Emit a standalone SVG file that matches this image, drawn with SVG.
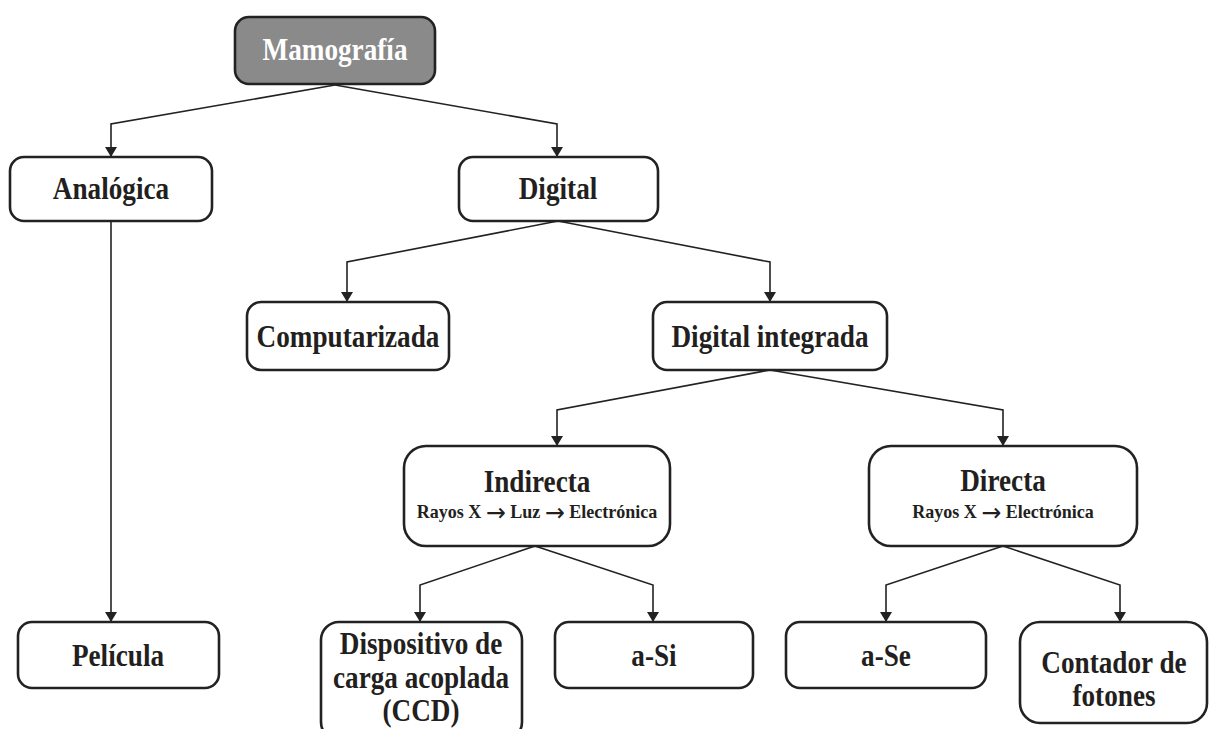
<svg xmlns="http://www.w3.org/2000/svg" width="1209" height="729" viewBox="0 0 1209 729">
<defs>
<marker id="ah" viewBox="0 0 10 12" refX="10" refY="6" markerWidth="10" markerHeight="12" markerUnits="userSpaceOnUse" orient="auto">
<path d="M0,0 L10,6 L0,12 Z" fill="#222"/>
</marker>
<style>
.box{fill:#fff;stroke:#222;stroke-width:2.6}
.root{fill:#8a8a8a;stroke:#222;stroke-width:2.6}
.t{font-family:"Liberation Serif","Times New Roman",serif;font-weight:bold;font-size:32px;fill:#231f20;text-anchor:middle}
.tw{fill:#fff}
.s{font-size:19px}
.ar{font-family:"DejaVu Sans",sans-serif;font-weight:normal;font-size:25px}
.c{fill:none;stroke:#222;stroke-width:1.6;marker-end:url(#ah)}
</style>
</defs>
<rect width="1209" height="729" fill="#fff"/>
<g id="connectors">
<path class="c" d="M335,85 L111,124 L111,157"/>
<path class="c" d="M335,85 L557,124 L557,157"/>
<path class="c" d="M111,221 L111,622"/>
<path class="c" d="M558,221 L347,262 L347,302"/>
<path class="c" d="M558,221 L770,262 L770,302"/>
<path class="c" d="M770,370 L557,410 L557,446"/>
<path class="c" d="M770,370 L1003,410 L1003,446"/>
<path class="c" d="M535,546 L420,585 L420,622"/>
<path class="c" d="M535,546 L653,585 L653,622"/>
<path class="c" d="M1003,546 L886,585 L886,622"/>
<path class="c" d="M1003,546 L1120,585 L1120,622"/>
</g>
<g id="mamografia"><rect class="root" x="235" y="17" width="200" height="67" rx="14"/><text class="t tw" transform="translate(335,60) scale(0.85,1)">Mamografía</text></g>
<g id="analogica"><rect class="box" x="10" y="157" width="202" height="64" rx="14"/><text class="t" transform="translate(111,199) scale(0.85,1)">Analógica</text></g>
<g id="digital"><rect class="box" x="459" y="157" width="199" height="64" rx="14"/><text class="t" transform="translate(558,199) scale(0.85,1)">Digital</text></g>
<g id="computarizada"><rect class="box" x="247" y="302" width="202" height="68" rx="14"/><text class="t" transform="translate(348,347) scale(0.85,1)">Computarizada</text></g>
<g id="digital-integrada"><rect class="box" x="653" y="302" width="234" height="68" rx="14"/><text class="t" transform="translate(770,347) scale(0.85,1)">Digital integrada</text></g>
<g id="indirecta"><rect class="box" x="404" y="446" width="266" height="100" rx="22"/><text class="t" transform="translate(537,492) scale(0.85,1)">Indirecta</text><text class="t s" transform="translate(537,518) scale(0.95,1)">Rayos X <tspan class="ar" dy="3">→</tspan><tspan dy="-3"> Luz </tspan><tspan class="ar" dy="3">→</tspan><tspan dy="-3"> Electrónica</tspan></text></g>
<g id="directa"><rect class="box" x="869" y="446" width="268" height="100" rx="22"/><text class="t" transform="translate(1003,491) scale(0.85,1)">Directa</text><text class="t s" transform="translate(1003,518) scale(0.95,1)">Rayos X <tspan class="ar" dy="3">→</tspan><tspan dy="-3"> Electrónica</tspan></text></g>
<g id="pelicula"><rect class="box" x="18" y="622" width="201" height="66" rx="14"/><text class="t" transform="translate(118,666) scale(0.85,1)">Película</text></g>
<g id="ccd"><rect class="box" x="321" y="622" width="201" height="118" rx="18"/><text class="t" transform="translate(421,654) scale(0.85,1)">Dispositivo de</text><text class="t" transform="translate(421,688) scale(0.85,1)">carga acoplada</text><text class="t" transform="translate(421,721) scale(0.85,1)">(CCD)</text></g>
<g id="a-si"><rect class="box" x="555" y="622" width="198" height="66" rx="14"/><text class="t" transform="translate(654,666) scale(0.85,1)">a-Si</text></g>
<g id="a-se"><rect class="box" x="786" y="622" width="200" height="66" rx="14"/><text class="t" transform="translate(886,666) scale(0.85,1)">a-Se</text></g>
<g id="contador"><rect class="box" x="1020" y="622" width="187" height="101" rx="20"/><text class="t" transform="translate(1114,673) scale(0.85,1)">Contador de</text><text class="t" transform="translate(1114,706) scale(0.85,1)">fotones</text></g>
</svg>
